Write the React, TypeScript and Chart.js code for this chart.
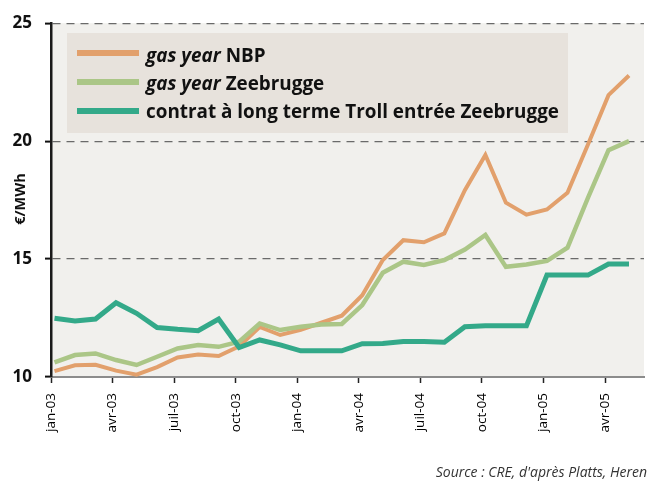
import React, { useEffect, useRef } from 'react';
import { Chart, registerables } from 'chart.js';

Chart.register(...registerables);

// ---- data ----
const tickLabels = ['jan-03', 'avr-03', 'juil-03', 'oct-03', 'jan-04', 'avr-04', 'juil-04', 'oct-04', 'jan-05', 'avr-05'];
const yTicks = [10, 15, 20, 25];

const nbp = [10.25, 10.5, 10.52, 10.27, 10.1, 10.42, 10.83, 10.95, 10.89, 11.3, 12.12, 11.78, 12.0, 12.3, 12.6, 13.47, 14.96, 15.8, 15.71, 16.09, 17.92, 19.41, 17.39, 16.88, 17.1, 17.81, 19.86, 21.95, 22.78];
const zeebrugge = [10.62, 10.93, 11.0, 10.72, 10.51, 10.86, 11.21, 11.36, 11.28, 11.5, 12.27, 11.99, 12.13, 12.23, 12.25, 13.05, 14.42, 14.89, 14.75, 14.96, 15.4, 16.02, 14.67, 14.77, 14.92, 15.48, 17.6, 19.62, 20.0];
const troll = [12.49, 12.37, 12.46, 13.15, 12.7, 12.1, 12.02, 11.96, 12.46, 11.25, 11.57, 11.36, 11.11, 11.11, 11.11, 11.41, 11.42, 11.5, 11.5, 11.47, 12.13, 12.17, 12.17, 12.17, 14.32, 14.32, 14.32, 14.79, 14.79];

const legendItalic = ['gas year', 'gas year', ''];
const legendBold = ['NBP', 'Zeebrugge', 'contrat à long terme Troll entrée Zeebrugge'];
const colors = ['#e2a06c', '#abc687', '#33a989'];
const yTitle = '€/MWh';
const sourceText = "Source : CRE, d'après Platts, Heren";

const FONT = '"Open Sans", "Noto Sans", sans-serif';
const POINT_OFFSET = 0.17;

const toPoints = (arr: number[]) => arr.map((v, i) => ({ x: i + POINT_OFFSET, y: v }));

const decorPlugin = {
  id: 'decor',
  beforeDraw(chart: any) {
    const { ctx, chartArea: a } = chart;
    ctx.save();
    ctx.fillStyle = '#f1f0ed';
    ctx.fillRect(a.left, a.top, a.right - a.left, a.bottom - a.top);
    ctx.restore();
  },
  beforeDatasetsDraw(chart: any) {
    const { ctx } = chart;
    ctx.save();
    // legend box
    ctx.fillStyle = '#e7e2dc';
    ctx.fillRect(67, 33, 501, 100);
    const baselines = [62, 90, 118];
    const swatchY = [53, 82, 111];
    ctx.font = `bold 19px ${FONT}`;
    const longW = ctx.measureText(legendBold[2]).width;
    const sx = 413 / longW;
    for (let i = 0; i < 3; i++) {
      ctx.strokeStyle = colors[i];
      ctx.lineWidth = 6;
      ctx.lineCap = 'butt';
      ctx.beginPath();
      ctx.moveTo(77, swatchY[i]);
      ctx.lineTo(139, swatchY[i]);
      ctx.stroke();

      ctx.save();
      ctx.translate(146, baselines[i]);
      ctx.scale(sx, 1);
      ctx.fillStyle = '#111';
      ctx.textBaseline = 'alphabetic';
      ctx.textAlign = 'left';
      let x = 0;
      if (legendItalic[i]) {
        ctx.font = `italic bold 19px ${FONT}`;
        ctx.fillText(legendItalic[i], x, 0);
        x += ctx.measureText(legendItalic[i] + ' ').width;
      }
      ctx.font = `bold 19px ${FONT}`;
      ctx.fillText(legendBold[i], x, 0);
      ctx.restore();
    }
    ctx.restore();
  },
  afterDraw(chart: any) {
    const { ctx } = chart;
    ctx.save();
    ctx.fillStyle = '#111';
    ctx.translate(21, 199);
    ctx.rotate(-Math.PI / 2);
    ctx.textAlign = 'center';
    ctx.textBaseline = 'middle';
    ctx.font = `bold 14.5px ${FONT}`;
    ctx.fillText(yTitle, 0, 0);
    ctx.restore();

    ctx.save();
    ctx.fillStyle = '#333';
    ctx.textAlign = 'right';
    ctx.textBaseline = 'alphabetic';
    ctx.font = `italic 14px ${FONT}`;
    ctx.fillText(sourceText, 647, 477);
    ctx.restore();
  },
};

export default function App() {
  const ref = useRef<HTMLCanvasElement | null>(null);

  useEffect(() => {
    if (!ref.current) return;
    const chart = new Chart(ref.current, {
      type: 'line',
      data: {
        datasets: [
          { label: 'gas year NBP', data: toPoints(nbp), borderColor: colors[0], borderWidth: 4, pointRadius: 0, order: 3, borderJoinStyle: 'miter', tension: 0 },
          { label: 'gas year Zeebrugge', data: toPoints(zeebrugge), borderColor: colors[1], borderWidth: 4.5, pointRadius: 0, order: 2, borderJoinStyle: 'miter', tension: 0 },
          { label: 'contrat à long terme Troll entrée Zeebrugge', data: toPoints(troll), borderColor: colors[2], borderWidth: 5, pointRadius: 0, order: 1, borderJoinStyle: 'miter', tension: 0 },
        ],
      } as any,
      options: {
        animation: false,
        responsive: false,
        devicePixelRatio: 1,
        layout: { padding: { top: 23, right: 6, left: 0, bottom: 0 } },
        plugins: { legend: { display: false }, tooltip: { enabled: false }, title: { display: false } },
        scales: {
          x: {
            type: 'linear',
            min: 0,
            max: 28.9,
            afterBuildTicks: (s: any) => {
              s.ticks = tickLabels.map((_, i) => ({ value: i * 3 }));
            },
            afterFit: (s: any) => {
              s.height = 104;
            },
            ticks: {
              autoSkip: false,
              minRotation: 90,
              maxRotation: 90,
              padding: 10,
              color: '#000',
              font: { family: FONT, size: 13.5 },
              callback: (v: any) => tickLabels[Math.round(Number(v) / 3)] ?? '',
            },
            grid: { drawOnChartArea: false, drawTicks: true, tickLength: 6, tickColor: '#222', tickWidth: 1.5 },
            border: { display: true, color: '#8c8c8c', width: 2 },
          },
          y: {
            min: 10,
            max: 25,
            afterBuildTicks: (s: any) => {
              s.ticks = yTicks.map((v) => ({ value: v }));
            },
            afterFit: (s: any) => {
              s.width = 51;
            },
            ticks: {
              padding: 13,
              color: '#111',
              font: { family: FONT, size: 17, weight: 'bold' },
              callback: (v: any) => String(v),
            },
            grid: {
              color: (c: any) => (c.tick && c.tick.value === 10 ? 'rgba(0,0,0,0)' : '#6a6a6a'),
              lineWidth: 1.2,
              tickLength: 6,
              tickColor: '#111',
              tickWidth: 2,
              tickBorderDash: [],
            },
            border: { display: true, color: '#1a1a1a', width: 2.5, dash: [8, 6] },
          },
        },
      } as any,
      plugins: [decorPlugin],
    });
    return () => chart.destroy();
  }, []);

  return (
    <div style={{ position: 'absolute', left: 0, top: 0, width: 650, height: 481, background: '#fff' }}>
      <canvas ref={ref} width={650} height={481} style={{ width: 650, height: 481, display: 'block' }} />
    </div>
  );
}
